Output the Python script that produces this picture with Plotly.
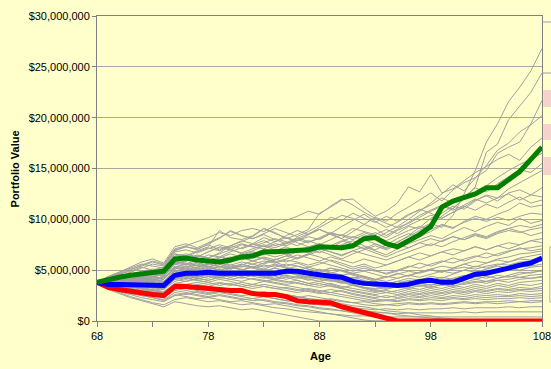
import plotly.graph_objects as go

ages = list(range(68, 109))

# Percentile lines ($ millions)
green_90 = [3.8, 4.1, 4.3, 4.5, 4.6,
            4.8, 4.9, 6.1, 6.2, 6.0,
            5.9, 5.8, 6.0, 6.3, 6.4,
            6.8, 6.8, 6.9, 6.9, 7.0,
            7.3, 7.2, 7.2, 7.4, 8.1,
            8.2, 7.6, 7.3, 7.9, 8.5,
            9.3, 11.2, 11.8, 12.2, 12.5,
            13.1, 13.1, 13.9, 14.7, 15.9,
            17.1]
blue_50 = [3.8, 3.6, 3.6, 3.6, 3.6,
           3.5, 3.5, 4.5, 4.7, 4.7,
           4.8, 4.7, 4.7, 4.8, 4.8,
           4.7, 4.7, 4.9, 4.9, 4.7,
           4.5, 4.4, 4.3, 3.9, 3.7,
           3.7, 3.6, 3.5, 3.6, 3.9,
           4.0, 3.8, 3.8, 4.2, 4.6,
           4.7, 4.9, 5.2, 5.5, 5.7,
           6.2]
red_10 = [3.8, 3.3, 3.1, 2.9, 2.7,
          2.6, 2.5, 3.4, 3.4, 3.3,
          3.2, 3.05, 3.0, 3.0, 2.7,
          2.6, 2.6, 2.4, 2.0, 1.9,
          1.9, 1.8, 1.4, 1.1, 0.8,
          0.5, 0.2, 0.0, 0.0, 0.0,
          0.0, 0.0, 0.0, 0.0, 0.0,
          0.0, 0.0, 0.0, 0.0, 0.0,
          0.0]

# Individual simulation paths ($ millions)
sim01 = [3.8,4.2,4.6,4.5,4.9, 5.1,5.0,6.4,6.6,6.3, 6.8,7.2,7.0,7.5,7.3, 7.1,7.6,7.4,7.9,8.3, 8.0,8.6,8.4,9.1,8.8, 8.5,9.0,8.6,9.3,9.1, 9.6,9.2,10.4,12.5,14.8, 17.6,19.4,21.6,23.0,24.6, 26.8]
sim02 = [3.8,3.9,4.3,4.8,5.2, 5.6,5.4,6.9,7.3,7.0, 7.6,8.1,8.9,8.4,8.1, 8.6,9.1,8.7,8.3,8.8, 9.4,10.2,9.9,10.6,10.1, 9.7,10.3,9.8,10.5,10.9, 11.4,12.1,11.6,12.0,13.2, 16.6,17.4,19.8,21.2,22.5, 24.4]
sim03 = [3.8,4.1,3.9,4.2,4.4, 4.3,4.6,5.9,6.2,6.0, 6.5,6.3,6.8,7.2,7.6, 7.3,7.8,8.2,7.9,8.5, 9.2,9.8,10.4,10.1,9.5, 10.2,9.8,10.6,11.2,11.9, 12.6,11.8,12.9,13.6,14.1, 14.8,16.5,17.1,17.6,19.4, 21.7]
sim04 = [3.8,4.4,4.8,5.2,5.6, 5.4,5.2,6.6,6.4,6.9, 7.3,8.9,8.2,8.0,8.4, 9.1,8.7,8.1,8.5,9.0, 10.6,11.2,11.9,12.0,11.1, 10.3,10.8,11.6,13.2,12.7, 14.4,12.6,13.0,13.8,14.6, 15.2,15.9,16.4,15.8,17.1, 18.0]
sim05 = [3.8,3.6,3.9,4.1,3.8, 4.0,4.3,5.7,5.9,6.4, 6.2,6.7,7.4,7.1,7.5, 7.9,7.4,7.7,8.2,7.8, 8.1,8.6,8.1,8.8,9.5, 9.1,8.4,9.0,9.7,10.4, 10.9,11.4,11.0,12.2,13.1, 12.7,13.5,14.2,14.9,14.6, 15.5]
sim06 = [3.8,4.0,4.3,4.1,4.5, 4.8,4.5,5.8,5.6,6.0, 5.7,6.1,5.8,6.3,6.7, 6.5,6.9,7.3,6.8,7.2, 7.6,7.2,7.8,8.3,8.0, 7.6,7.1,7.7,8.4,9.2, 10.1,10.6,11.3,11.0,11.8, 12.4,12.1,13.0,13.6,14.2, 14.8]
sim07 = [3.8,3.7,3.5,3.8,4.0, 4.2,3.9,5.1,5.4,5.2, 5.6,5.3,5.8,6.2,5.9, 6.3,6.0,6.4,6.8,7.1, 6.7,7.3,7.0,7.6,8.1, 8.7,8.2,8.9,9.4,9.9, 10.4,10.1,10.7,11.2,11.9, 12.3,11.8,12.6,12.9,12.4, 13.1]
sim08 = [3.8,4.3,4.7,5.1,5.4, 5.8,5.5,7.0,7.3,7.1, 7.5,7.0,7.4,7.8,8.3, 9.1,8.6,8.2,7.7,7.3, 7.6,7.1,7.5,7.9,7.4, 7.0,7.5,8.1,8.6,8.3, 8.8,9.4,9.1,9.8,10.3, 10.0,10.5,10.9,11.6,11.2, 11.4]
sim09 = [3.8,3.5,3.9,4.3,4.1, 4.4,4.7,6.1,5.9,6.3, 6.8,7.3,7.1,6.6,6.9, 7.4,7.0,6.6,6.2,6.6, 7.1,6.8,6.4,6.9,7.3, 6.9,6.5,7.1,7.6,8.0, 8.4,8.1,8.7,9.2,8.8, 9.3,9.7,9.4,10.1,9.6, 9.9]
sim10 = [3.8,4.0,3.7,3.9,3.6, 3.8,3.5,4.6,4.9,5.2, 5.0,5.4,5.1,5.5,5.9, 5.6,6.0,6.4,6.1,6.5, 6.9,6.5,6.1,6.6,7.0, 7.4,7.0,7.5,7.2,7.7, 8.1,7.8,8.3,8.0,8.5, 8.2,8.7,9.1,8.8,8.4, 8.7]
sim11 = [3.8,4.2,4.5,4.3,4.7, 4.5,4.8,6.0,6.4,6.1, 5.8,6.2,6.6,6.3,5.9, 6.2,5.8,5.4,5.7,5.3, 5.6,6.0,5.7,5.3,5.6, 5.2,5.5,5.9,6.3,6.0, 6.4,6.8,6.5,6.9,7.3, 7.0,7.4,7.1,7.5,7.9, 7.7]
sim12 = [3.8,3.4,3.6,3.3,3.5, 3.2,3.4,4.5,4.3,4.7, 5.1,4.8,5.2,5.6,5.3, 5.7,6.1,5.8,6.2,6.6, 6.3,5.9,5.5,5.1,5.4, 5.0,4.6,4.9,5.3,5.7, 5.4,5.8,6.2,5.9,6.3, 6.7,6.4,6.8,7.2,6.9, 7.1]
sim13 = [3.8,3.9,4.2,4.0,4.3, 4.6,4.4,5.6,5.3,5.7, 5.4,5.0,5.3,5.0,5.4, 5.1,5.5,5.2,4.9,5.3, 5.0,4.7,5.0,4.6,4.3, 4.0,4.3,4.7,4.4,4.8, 5.1,4.8,5.2,5.6,5.3, 5.7,6.0,5.8,6.2,6.4, 6.6]
sim14 = [3.8,3.6,3.4,3.7,3.5, 3.3,3.1,4.2,4.5,4.3, 4.6,4.9,4.7,5.0,5.3, 5.0,4.7,5.1,5.4,5.1, 4.8,5.2,4.9,4.5,4.2, 3.9,3.6,3.9,4.2,4.0, 4.4,4.2,4.6,5.0,4.8, 5.1,5.4,5.2,5.6,5.7, 5.9]
sim15 = [3.8,4.1,4.4,4.7,4.5, 4.8,4.6,5.9,5.7,5.5, 5.9,5.6,5.3,5.6,5.2, 4.9,5.2,4.9,4.6,4.3, 4.6,4.3,4.0,4.3,4.0, 3.7,3.4,3.7,4.0,3.8, 4.1,3.9,4.2,4.5,4.3, 4.6,4.9,5.2,5.0,5.3, 5.4]
sim16 = [3.8,3.5,3.7,3.4,3.2, 3.4,3.2,4.1,4.4,4.2, 4.0,4.3,4.6,4.4,4.7, 4.5,4.2,4.5,4.3,4.0, 4.3,4.0,3.7,4.0,3.7, 3.4,3.2,3.5,3.8,3.6, 3.9,3.7,4.0,4.3,4.1, 4.4,4.2,4.5,4.8,4.7, 5.0]
sim17 = [3.8,3.9,3.6,3.8,3.5, 3.7,3.4,4.4,4.7,4.5, 4.8,4.6,4.3,4.6,4.9, 4.7,4.4,4.1,4.4,4.1, 3.9,4.2,3.9,3.6,3.3, 3.1,3.3,3.6,3.4,3.7, 3.5,3.8,4.0,3.8,4.1, 3.9,4.2,4.4,4.3,4.5, 4.6]
sim18 = [3.8,3.6,3.9,3.7,3.9, 3.6,3.8,4.9,4.7,5.0, 4.8,5.1,4.8,4.5,4.7, 4.4,4.1,4.3,4.0,3.7, 3.9,3.6,3.3,3.5,3.2, 2.9,3.1,3.4,3.2,3.5, 3.3,3.6,3.4,3.7,3.9, 3.7,4.0,3.8,4.1,4.2, 4.3]
sim19 = [3.8,3.4,3.2,3.0,3.2, 3.0,2.8,3.7,3.9,4.1, 4.4,4.2,4.5,4.8,4.6, 4.9,5.2,4.9,4.6,4.8, 4.5,4.2,3.9,3.6,3.3, 3.0,2.8,3.0,3.3,3.1, 3.4,3.2,3.5,3.3,3.6, 3.4,3.7,3.5,3.8,3.9, 4.0]
sim20 = [3.8,4.0,4.2,4.0,4.2, 4.0,3.8,4.9,5.2,5.0, 5.3,5.0,4.7,4.4,4.6, 4.3,4.0,3.8,4.0,3.7, 3.5,3.7,3.4,3.2,3.0, 2.8,3.0,2.8,3.1,2.9, 3.2,3.0,3.3,3.1,3.4, 3.2,3.5,3.3,3.6,3.5, 3.7]
sim21 = [3.8,3.5,3.3,3.5,3.2, 3.0,3.2,4.1,3.9,4.2, 4.0,4.3,4.1,3.9,4.2, 4.0,3.8,3.6,3.8,3.5, 3.3,3.5,3.2,3.0,2.8, 2.6,2.8,2.6,2.9,2.7, 3.0,2.8,3.1,2.9,3.2, 3.0,3.2,3.1,3.3,3.2, 3.4]
sim22 = [3.8,3.7,3.5,3.3,3.5, 3.3,3.1,3.9,4.2,4.0, 3.8,4.1,3.9,3.6,3.4, 3.6,3.4,3.2,3.0,3.2, 3.0,2.8,3.0,2.7,2.5, 2.3,2.5,2.3,2.6,2.4, 2.7,2.5,2.8,2.6,2.9, 2.7,2.9,2.8,3.0,2.9, 3.0]
sim23 = [3.8,3.3,3.1,2.9,2.7, 2.5,2.4,3.1,3.3,3.6, 3.4,3.7,3.5,3.8,3.6, 3.9,3.7,3.5,3.3,3.1, 2.9,3.1,2.9,2.6,2.4, 2.2,2.0,2.2,2.4,2.3, 2.5,2.3,2.5,2.4,2.6, 2.5,2.6,2.5,2.7,2.6, 2.7]
sim24 = [3.8,4.0,3.8,4.1,3.9, 3.7,3.5,4.5,4.3,4.0, 3.8,3.5,3.7,3.4,3.2, 3.4,3.2,3.0,2.8,3.0, 2.8,2.6,2.4,2.2,2.0, 1.9,2.0,1.9,2.1,2.0, 2.1,2.0,2.2,2.1,2.2, 2.1,2.2,2.2,2.3,2.2, 2.3]
sim25 = [3.8,3.4,3.0,2.7,2.5, 2.3,2.1,2.8,2.6,2.9, 2.7,2.9,3.1,2.9,2.7, 2.9,2.7,2.5,2.3,2.5, 2.3,2.1,1.9,1.8,1.6, 1.5,1.6,1.5,1.7,1.6, 1.7,1.6,1.7,1.8,1.7, 1.8,1.7,1.8,1.9,1.8, 1.9]
sim26 = [3.8,3.6,3.3,3.1,2.9, 2.7,2.5,3.2,3.0,2.8, 2.6,2.8,2.6,2.4,2.2, 2.4,2.2,2.0,1.9,1.7, 1.6,1.5,1.4,1.3,1.2, 1.1,1.2,1.1,1.2,1.1, 1.2,1.2,1.3,1.2,1.3, 1.3,1.3,1.4,1.3,1.4, 1.4]
sim27 = [3.8,3.3,2.9,2.6,2.3, 2.1,1.9,2.5,2.7,2.5, 2.3,2.5,2.3,2.1,2.2, 2.0,1.8,1.7,1.5,1.4, 1.2,1.1,1.0,0.9,0.8, 0.8,0.8,0.7,0.8,0.8, 0.8,0.8,0.8,0.9,0.8, 0.9,0.9,0.9,0.9,0.9, 0.9]
sim28 = [3.8,3.2,2.8,2.4,2.1, 1.8,1.6,2.1,2.3,2.1, 1.9,2.0,1.8,1.6,1.7, 1.5,1.3,1.2,1.0,0.9, 0.8,0.7,0.6,0.5,0.5, 0.4,0.4,0.4,0.4,0.4, 0.4,0.4,0.4,0.4,0.4, 0.4,0.4,0.4,0.4,0.4, 0.4]
sim29 = [3.8,3.1,2.7,2.3,2.0, 1.7,1.4,1.9,1.7,1.5, 1.4,1.5,1.3,1.1,1.2, 1.0,0.8,0.6,0.4,0.2, 0.0,0.0,0.0,0.0,0.0, 0.0,0.0,0.0,0.0,0.0, 0.0,0.0,0.0,0.0,0.0, 0.0,0.0,0.0,0.0,0.0, 0.0]
sim30 = [3.8,3.4,3.0,2.8,2.5, 2.3,2.0,2.6,2.4,2.2, 2.3,2.1,1.9,2.0,1.8, 1.6,1.7,1.5,1.3,1.1, 0.9,0.7,0.5,0.3,0.1, 0.0,0.0,0.0,0.0,0.0, 0.0,0.0,0.0,0.0,0.0, 0.0,0.0,0.0,0.0,0.0, 0.0]
sim31 = [3.8,3.5,3.2,3.0,2.8, 2.6,2.3,3.0,2.8,2.6, 2.4,2.6,2.4,2.2,2.0, 2.1,1.9,1.8,1.6,1.5, 1.3,1.2,1.0,0.8,0.6, 0.4,0.2,0.0,0.0,0.0, 0.0,0.0,0.0,0.0,0.0, 0.0,0.0,0.0,0.0,0.0, 0.0]
sim32 = [3.8,3.6,3.4,3.2,3.0, 2.8,2.7,3.4,3.2,3.0, 2.8,2.9,2.7,2.5,2.6, 2.4,2.2,2.0,1.9,1.7, 1.6,1.5,1.3,1.2,1.0, 0.9,0.8,0.6,0.5,0.4, 0.3,0.2,0.1,0.0,0.0, 0.0,0.0,0.0,0.0,0.0, 0.0]
sim33 = [3.8,4.1,4.6,4.9,5.3, 5.0,5.3,6.8,7.0,6.7, 7.1,7.5,7.2,7.6,7.3, 7.7,8.1,7.8,7.4,7.9, 7.5,8.0,8.5,8.2,8.7, 8.3,7.9,8.4,8.9,9.3, 9.0,9.5,9.2,9.7,10.1, 9.8,10.2,9.9,10.3,10.6, 10.5]
sim34 = [3.8,3.9,4.1,4.4,4.2, 4.4,4.2,5.4,5.2,5.5, 5.3,5.7,5.5,5.8,5.6, 5.3,5.6,5.3,5.0,4.8, 5.1,4.8,4.5,4.7,4.4, 4.1,3.9,4.2,4.5,4.3, 4.6,4.9,4.7,5.0,5.4, 5.2,5.5,5.8,6.1,6.0, 6.3]
sim35 = [3.8,3.7,4.0,4.3,4.6, 4.4,4.1,5.3,5.6,5.4, 5.7,6.0,6.3,6.0,6.4, 6.1,5.8,6.1,6.5,6.2, 5.9,6.3,6.0,5.7,6.1, 5.8,5.5,5.9,6.3,6.7, 6.4,6.8,7.1,6.9,7.3, 7.0,7.4,7.7,7.5,7.9, 8.1]
sim36 = [3.8,4.2,4.6,5.0,5.5, 5.9,5.6,7.1,7.4,7.8, 8.2,8.7,8.4,8.9,9.1, 8.8,9.4,9.9,10.3,10.8, 10.5,11.3,12.0,11.4,10.7, 10.1,9.6,9.2,9.6,10.2, 10.8,11.3,10.9,11.4,12.0, 11.6,12.1,12.5,11.9,12.4, 12.2]
sim37 = [3.8,4.0,3.8,3.6,3.9, 4.1,3.9,5.0,4.8,4.6, 4.4,4.7,4.5,4.2,4.5, 4.8,4.5,4.8,4.6,4.3, 4.1,3.9,4.2,3.9,3.6, 3.4,3.6,3.9,3.7,4.0, 3.8,4.1,3.9,4.2,4.4, 4.2,4.5,4.3,4.6,4.8, 4.9]
sim38 = [3.8,3.5,3.2,3.4,3.1, 2.9,2.7,3.5,3.3,3.5, 3.2,3.0,3.2,3.0,2.8, 2.6,2.8,2.6,2.4,2.2, 2.0,2.2,2.0,1.8,1.9, 1.7,1.6,1.7,1.8,1.7, 1.8,1.7,1.8,1.9,1.8, 1.9,1.9,2.0,1.9,2.0, 2.0]
sim39 = [3.8,4.3,4.8,5.3,5.8, 6.1,5.7,7.3,7.6,7.2, 7.7,8.2,8.8,8.4,8.1, 8.5,8.0,7.6,8.1,8.6, 9.0,8.5,8.1,7.6,7.1, 6.7,6.3,6.8,7.2,7.7, 7.4,7.9,8.3,8.0,8.4, 8.1,8.6,8.9,8.7,9.0, 9.2]
sim40 = [3.8,3.6,3.8,4.0,3.7, 3.5,3.3,4.3,4.1,4.4, 4.2,4.5,4.3,4.6,4.4, 4.2,4.5,4.8,4.5,4.2, 4.4,4.1,3.8,4.1,3.8, 3.5,3.3,3.6,3.9,3.7, 4.0,4.3,4.1,4.4,4.7, 4.5,4.8,5.1,5.3,5.4, 5.6]
sim41 = [3.8,3.9,4.2,4.0,4.4, 4.7,4.5,5.8,6.1,6.5, 6.2,6.6,7.0,6.7,7.1, 7.5,7.2,7.6,8.0,7.7, 8.2,8.7,8.4,8.0,8.5, 8.1,8.7,9.3,10.0,10.8, 11.6,12.5,13.4,12.8,14.0, 15.3,16.8,17.5,18.6,19.3, 20.2]
sim42 = [3.8,3.7,3.9,3.7,4.0, 3.8,3.6,4.7,4.9,5.1, 5.4,5.2,5.5,5.3,5.6, 5.9,5.7,6.0,5.8,5.5, 5.8,5.5,5.2,4.9,5.2, 4.9,4.7,5.0,5.4,5.2, 5.6,5.9,5.7,6.1,6.4, 6.2,6.6,6.9,7.1,7.2, 7.4]
sim43 = [3.8,3.9,4.1,3.9,3.7, 3.9,3.7,4.7,4.5,4.3, 4.5,4.3,4.1,4.3,4.1, 3.9,4.1,3.9,3.7,3.5, 3.7,3.4,3.2,2.9,2.7, 2.5,2.3,2.5,2.7,2.6, 2.8,2.7,2.9,2.8,3.0, 2.9,3.1,3.0,3.1,3.1, 3.2]
sim44 = [3.8,3.5,3.7,3.9,4.1, 3.9,4.1,5.2,5.0,5.3, 5.6,5.4,5.1,5.4,5.2, 5.5,5.3,5.6,5.4,5.1, 4.9,5.2,5.0,4.7,4.9, 4.6,4.3,4.6,4.9,4.7, 5.0,4.8,5.1,5.3,5.1, 5.4,5.6,5.5,5.8,5.9, 6.0]
sim45 = [3.8,3.6,3.4,3.2,3.3, 3.1,2.9,3.7,3.6,3.8, 3.6,3.8,3.6,3.4,3.6, 3.4,3.2,3.3,3.1,2.9, 2.7,2.8,2.6,2.4,2.2, 2.0,2.1,2.0,2.2,2.1, 2.3,2.2,2.3,2.2,2.4, 2.3,2.4,2.4,2.5,2.4, 2.5]
sim46 = [3.8,4.0,4.4,4.2,4.6, 4.9,5.2,6.6,6.3,6.8, 7.2,6.9,7.4,7.9,7.6, 8.2,7.8,8.4,8.9,8.5, 9.0,8.6,9.3,9.9,10.5, 9.8,9.2,9.7,10.4,11.0, 10.6,10.1,10.7,11.3,10.9, 11.5,11.1,11.7,12.2,11.6, 11.9]
sim47 = [3.8,3.7,3.8,3.6,3.4, 3.6,3.5,4.5,4.6,4.8, 4.6,4.4,4.7,4.9,4.6, 4.4,4.6,4.4,4.2,4.4, 4.2,4.0,3.8,3.5,3.3, 3.2,3.4,3.3,3.5,3.4, 3.6,3.5,3.7,3.6,3.8, 3.9,4.0,4.1,4.3,4.2, 4.4]
sim48 = [3.8,3.6,3.3,3.4,3.2, 3.0,2.8,3.6,3.4,3.2, 3.3,3.1,2.9,3.0,2.8, 2.7,2.5,2.6,2.4,2.2, 2.1,1.9,1.7,1.5,1.4, 1.2,1.0,0.9,0.8,0.6, 0.5,0.3,0.2,0.1,0.0, 0.0,0.0,0.0,0.0,0.0, 0.0]
sim49 = [3.8,4.0,3.8,4.1,4.3, 4.1,4.4,5.7,5.5,5.8, 6.1,5.9,6.2,6.6,6.3, 6.7,7.0,6.6,6.9,7.3, 7.0,7.4,7.9,7.5,7.1, 7.6,7.2,7.8,8.3,8.9, 9.5,10.3,11.1,12.0,12.6, 13.3,14.1,14.8,15.4,15.9, 16.5]
sim50 = [3.8,4.1,3.9,4.2,4.0, 4.3,4.1,5.3,5.1,4.9, 5.2,5.0,5.3,5.1,4.8, 5.1,4.9,4.6,4.9,4.7, 4.4,4.7,4.5,4.2,4.4, 4.1,4.4,4.2,4.5,4.8, 5.1,5.4,5.2,5.6,5.9, 5.7,6.1,6.3,6.6,6.7, 6.9]
sim51 = [3.8,3.9,4.2,4.5,4.3, 4.6,4.4,5.6,5.9,6.2, 6.0,6.3,6.1,6.5,6.8, 6.6,6.3,6.6,7.0,6.7, 7.1,6.8,6.5,6.9,6.6, 6.3,6.0,6.4,6.8,7.2, 7.6,7.3,7.8,8.2,8.6, 8.3,8.8,9.1,9.4,9.2, 9.5]

sims = [sim01, sim02, sim03, sim04, sim05, sim06, sim07, sim08, sim09, sim10,
        sim11, sim12, sim13, sim14, sim15, sim16, sim17, sim18, sim19, sim20,
        sim21, sim22, sim23, sim24, sim25, sim26, sim27, sim28, sim29, sim30,
        sim31, sim32, sim33, sim34, sim35, sim36, sim37, sim38, sim39, sim40,
        sim41, sim42, sim43, sim44, sim45, sim46, sim47, sim48, sim49, sim50, sim51]

y_tick_vals = [0, 5, 10, 15, 20, 25, 30]
y_tick_text = ["$0", "$5,000,000", "$10,000,000", "$15,000,000",
               "$20,000,000", "$25,000,000", "$30,000,000"]
x_tick_vals = [68, 73, 78, 83, 88, 93, 98, 103, 108]
x_tick_text = ["68", "", "78", "", "88", "", "98", "", "108"]

M = 1_000_000
fig = go.Figure()
for s in sims:
    fig.add_trace(go.Scatter(x=ages, y=[v * M for v in s], mode="lines",
                             line=dict(color="#A0A0A0", width=1),
                             showlegend=False, hoverinfo="skip"))
fig.add_trace(go.Scatter(x=ages, y=[v * M for v in red_10], mode="lines",
                         line=dict(color="#FF0000", width=5), showlegend=False))
fig.add_trace(go.Scatter(x=ages, y=[v * M for v in blue_50], mode="lines",
                         line=dict(color="#0000FF", width=5), showlegend=False))
fig.add_trace(go.Scatter(x=ages, y=[v * M for v in green_90], mode="lines",
                         line=dict(color="#008000", width=5), showlegend=False))

bg = "#FFFFCC"
pink = "#F6D2CA"
PW = 444.7  # plot width in px
PH = 305.0  # plot height in px


def px_x(px):
    return (px - 97) / PW


def px_y(py):
    return (321 - py) / PH


fig.update_layout(
    width=551, height=369,
    margin=dict(l=97, r=551 - 97 - PW, t=16, b=48, autoexpand=False),
    paper_bgcolor=bg, plot_bgcolor=bg,
    font=dict(family="Liberation Sans, Arial, sans-serif", size=11, color="#000000"),
    showlegend=False,
    xaxis=dict(range=[68, 108], tickmode="array", tickvals=x_tick_vals,
               ticktext=x_tick_text, ticks="outside", ticklen=5,
               tickcolor="#808080", showgrid=False, zeroline=False,
               ticklabeloverflow="allow",
               showline=True, linecolor="#808080", linewidth=1, mirror=True),
    yaxis=dict(range=[0, 30 * M], tickmode="array",
               tickvals=[v * M for v in y_tick_vals], ticktext=y_tick_text,
               ticks="outside", ticklen=4, tickcolor="#808080",
               showgrid=True, gridcolor="#A8A8A0", gridwidth=1, zeroline=False,
               showline=True, linecolor="#808080", linewidth=1, mirror=True),
    annotations=[
        dict(text="<b>Portfolio Value</b>", textangle=-90, xref="paper", yref="paper",
             x=px_x(15), y=0.5, xanchor="center", yanchor="middle", showarrow=False,
             font=dict(size=11)),
        dict(text="<b>Age</b>", xref="paper", yref="paper", x=px_x(320.5), y=px_y(355.5),
             xanchor="center", yanchor="middle", showarrow=False, font=dict(size=11)),
    ],
    shapes=[
        dict(type="line", xref="paper", yref="paper", layer="above",
             x0=px_x(542), x1=px_x(551), y0=px_y(22), y1=px_y(22),
             line=dict(color="#A0A0A0", width=1)),
        dict(type="line", xref="paper", yref="paper", layer="above",
             x0=px_x(542), x1=px_x(551), y0=px_y(73), y1=px_y(73),
             line=dict(color="#A0A0A0", width=1)),
        dict(type="rect", xref="paper", yref="paper", layer="above",
             x0=px_x(543), x1=px_x(551), y0=px_y(107), y1=px_y(90),
             line=dict(width=0), fillcolor=pink),
        dict(type="rect", xref="paper", yref="paper", layer="above",
             x0=px_x(543), x1=px_x(551), y0=px_y(140), y1=px_y(124),
             line=dict(width=0), fillcolor=pink),
        dict(type="rect", xref="paper", yref="paper", layer="above",
             x0=px_x(543), x1=px_x(551), y0=px_y(175), y1=px_y(157),
             line=dict(width=0), fillcolor=pink),
        dict(type="rect", xref="paper", yref="paper", layer="above",
             x0=px_x(549.5), x1=px_x(556), y0=px_y(302), y1=px_y(247),
             line=dict(color="#B0B0B0", width=1), fillcolor="rgba(0,0,0,0)"),
    ],
)

fig.write_html("out.html", config={"displayModeBar": False},
               post_script="document.body.style.margin='0';")
